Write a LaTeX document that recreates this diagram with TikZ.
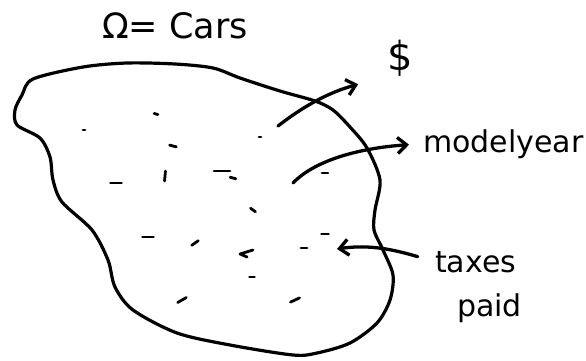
\documentclass[tikz,border=0pt]{standalone}
\usepackage{fontspec}
\setmainfont{DejaVu Sans}
\usetikzlibrary{arrows.meta}

\begin{document}
\begin{tikzpicture}[x=1pt,y=-1pt,line cap=round,line join=round,
    >={Straight Barb[length=9pt,width=16pt]},
    lbl/.style={inner sep=0pt,font=\fontsize{30}{36}\selectfont},
    outline/.style={line width=3.2pt},
    link/.style={line width=3.3pt,->},
    speck/.style={line width=2.8pt}]
  \useasboundingbox (0,0) rectangle (586,360);
  % title
  \node[lbl,anchor=base west,font=\fontsize{35}{40}\selectfont] (omega) at (102,38) {Ω= Cars};
  % the set
  \draw[outline] plot[smooth cycle] coordinates {
    (33,79) (83,67) (127,63) (175,64) (213,68) (240,78) (280,91) (315,101)
    (333,110) (350,127) (367,148) (380,180) (375,210) (374,230) (383,250)
    (393,275) (390,300) (377,323) (350,343) (317,353) (293,355) (230,345)
    (177,333) (133,310) (115,287) (108,260) (92,230) (62,202) (53,180)
    (50,157) (40,138) (17,125) (15,110) (22,95)};
  % cars in the set
  \foreach \x/\y/\a/\l in {156/114/15/4, 84/130/0/2, 260/137/0/2, 173/146/15/7,
      165/176/95/10, 222/171/0/16, 233/178/15/6, 116/183/0/11, 253/210/35/6,
      148/237/0/11, 195/243/-35/8, 252/277/0/5, 182/300/-30/10, 295/300/-25/10,
      325/173/0/6, 325/234/0/7, 304/248/0/6}
    \draw[speck] (\x,\y) ++(\a+180:\l/2) -- ++(\a:\l);
  \draw[speck] (253,250) -- (240,254) -- (247,257);
  \coordinate (car1) at (278,126);
  \coordinate (car2) at (293,183);
  \coordinate (car3) at (337,249);
  % features
  \node[lbl,font=\fontsize{40}{44}\selectfont] (dollar) at (400,58) {\$};
  \node[lbl,anchor=base west] (model) at (423,152) {modelyear};
  \node[lbl,anchor=base west] (taxes) at (435,272) {taxes};
  \node[lbl,anchor=base west] (paid) at ([xshift=22pt,yshift=-44pt]taxes.base west) {paid};
  \draw[link,shorten >=30pt] (car1) .. controls (305,105) and (330,92) .. (dollar.south west);
  \draw[link,shorten >=14pt] (car2) .. controls (315,160) and (360,148) .. (model.west);
  \draw[link,shorten <=18pt] (taxes.west) .. controls (395,250) and (370,244) .. (car3);
\end{tikzpicture}
\end{document}
